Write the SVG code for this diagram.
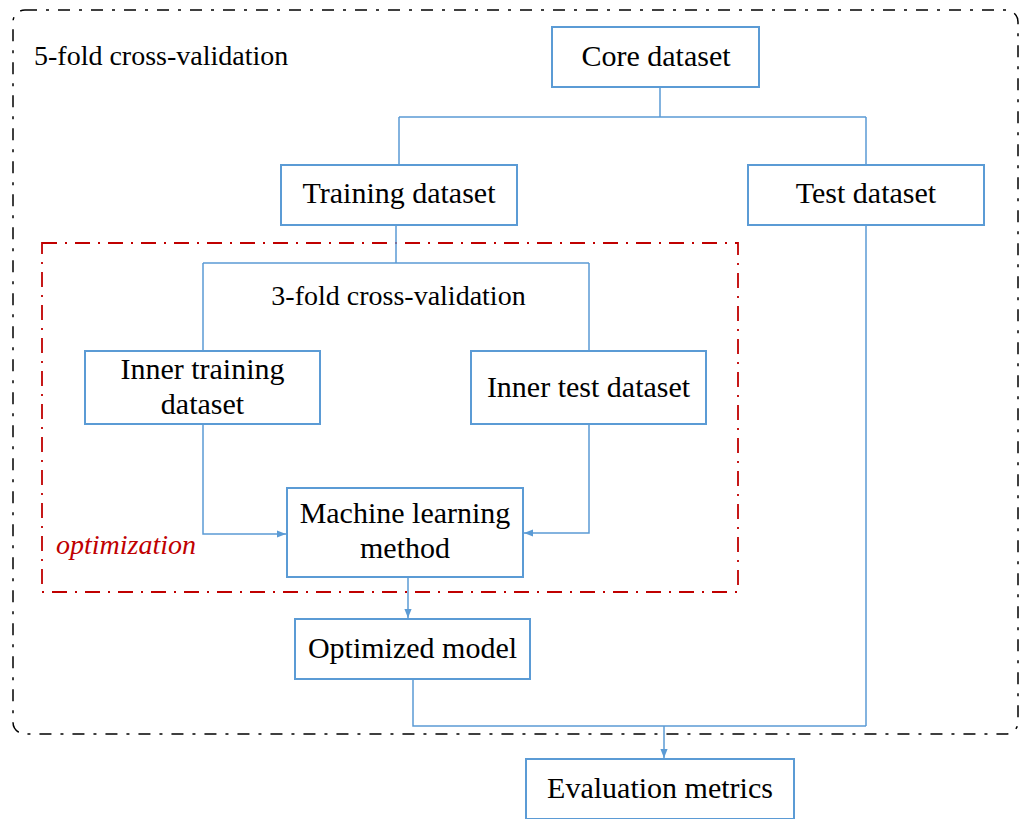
<svg xmlns="http://www.w3.org/2000/svg" width="1021" height="819" viewBox="0 0 1021 819">
<style>
.box{fill:#fff;stroke:#5B9BD5;stroke-width:2}
.con{fill:none;stroke:#5B9BD5;stroke-width:1.5}
.t{font-family:"Liberation Serif","Times New Roman",serif;font-size:30px;fill:#000;text-anchor:middle}
.lbl{font-family:"Liberation Serif","Times New Roman",serif;font-size:28px;fill:#000}
</style>
<defs>
<marker id="arr" viewBox="0 0 10 8" markerWidth="9" markerHeight="8" refX="10" refY="4" orient="auto" markerUnits="userSpaceOnUse">
<path d="M0,0 L10,4 L0,8 z" fill="#5B9BD5"/>
</marker>
</defs>
<rect width="1021" height="819" fill="#fff"/>
<g id="outer-frame">
<rect x="13" y="10" width="1005" height="724" rx="12" ry="12" fill="none" stroke="#000" stroke-width="1.5" stroke-dasharray="12 9 3 9"/>
<text class="lbl" x="34" y="65">5-fold cross-validation</text>
</g>
<g id="optimization-frame">
<rect x="42" y="243" width="696" height="349" fill="none" stroke="#C00000" stroke-width="1.8" stroke-dasharray="15 8 2 8"/>
<text class="lbl" x="56" y="554" fill="#C00000" style="fill:#C00000;font-style:italic">optimization</text>
<text class="lbl" x="398.5" y="305" text-anchor="middle" style="text-anchor:middle">3-fold cross-validation</text>
</g>
<g id="connectors">
<path class="con" d="M660,87 V117 M399,117 H866 M399,117 V165 M866,117 V165"/>
<path class="con" d="M396,225 V263 M203,263 H589 M203,263 V351 M589,263 V351"/>
<path class="con" d="M203,424 V534 H286" marker-end="url(#arr)"/>
<path class="con" d="M589,424 V533 H524" marker-end="url(#arr)"/>
<path class="con" d="M408,577 V618" marker-end="url(#arr)"/>
<path class="con" d="M413,679 V726 H866 M866,225 V726"/>
<path class="con" d="M664,726 V758" marker-end="url(#arr)"/>
</g>
<g id="core-dataset">
<rect class="box" x="552" y="27" width="207" height="60"/>
<text class="t" x="656" y="66">Core dataset</text>
</g>
<g id="training-dataset">
<rect class="box" x="281" y="165" width="236" height="60"/>
<text class="t" x="399" y="203">Training dataset</text>
</g>
<g id="test-dataset">
<rect class="box" x="748" y="165" width="236" height="60"/>
<text class="t" x="866" y="203">Test dataset</text>
</g>
<g id="inner-training-dataset">
<rect class="box" x="85" y="351" width="235" height="73"/>
<text class="t" x="202.5" y="379">Inner training</text>
<text class="t" x="202.5" y="414">dataset</text>
</g>
<g id="inner-test-dataset">
<rect class="box" x="471" y="351" width="235" height="73"/>
<text class="t" x="588.5" y="397">Inner test dataset</text>
</g>
<g id="machine-learning-method">
<rect class="box" x="287" y="488" width="236" height="89"/>
<text class="t" x="405" y="523">Machine learning</text>
<text class="t" x="405" y="558">method</text>
</g>
<g id="optimized-model">
<rect class="box" x="295" y="619" width="235" height="60"/>
<text class="t" x="412.5" y="658">Optimized model</text>
</g>
<g id="evaluation-metrics">
<rect class="box" x="526" y="759" width="268" height="60"/>
<text class="t" x="660" y="798">Evaluation metrics</text>
</g>
</svg>
